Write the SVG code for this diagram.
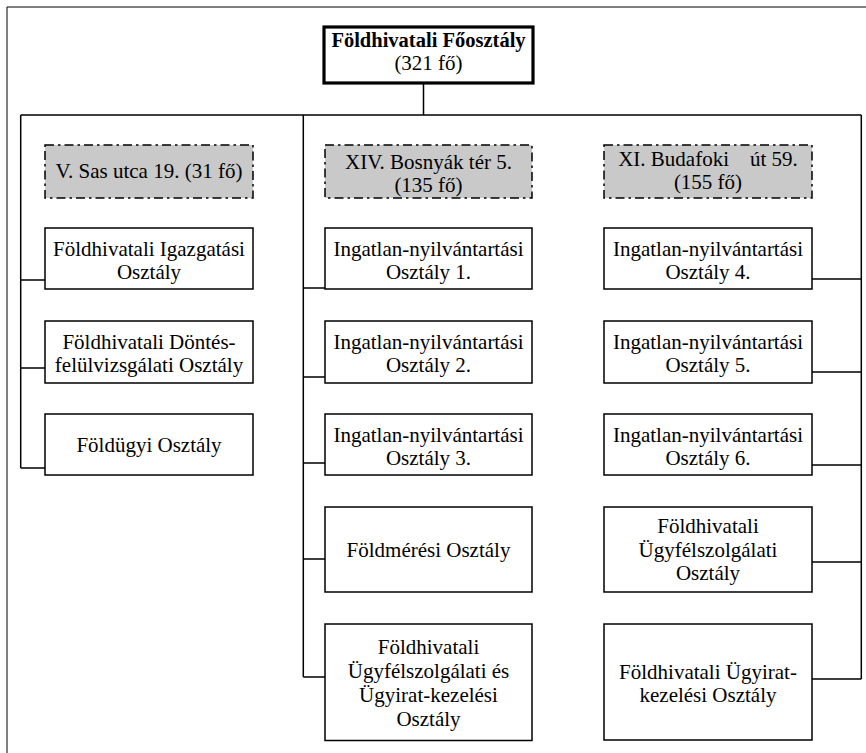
<svg xmlns="http://www.w3.org/2000/svg" width="866" height="753" viewBox="0 0 866 753">
<style>
text{font-family:'Liberation Serif','Times New Roman',serif;font-size:21px;fill:#000;text-anchor:middle}
.b{font-weight:bold;font-size:20.5px}
.box{fill:#fff;stroke:#000;stroke-width:1.5}
.top{fill:#fff;stroke:#000;stroke-width:3.2}
.loc{fill:#c9c9c9;stroke:#000;stroke-width:1.5;stroke-dasharray:9 4 2.5 4}
.ln{fill:none;stroke:#000;stroke-width:1.5}
.frame{fill:none;stroke:#000;stroke-width:1}
</style>
<rect width="866" height="753" fill="#fff"/>
<path class="frame" d="M7,753 V7 H866"/>
<g id="connectors">
<path class="ln" d="M423.5,83 V115 M20.7,115 H861.3"/>
<path class="ln" d="M20.7,115 V468 M20.7,280 H45 M20.7,368 H45 M20.7,468 H45"/>
<path class="ln" d="M303.3,115 V677 M303.3,288 H325 M303.3,377 H325 M303.3,463 H325 M303.3,559 H325 M303.3,677 H325"/>
<path class="ln" d="M861.3,115 V679 M812,279 H861.3 M812,372 H861.3 M812,465 H861.3 M812,562 H861.3 M812,679 H861.3"/>
</g>
<g id="foosztaly">
<rect class="top" x="324" y="27" width="209" height="56"/>
<text class="b" x="428.5" y="47">Földhivatali Főosztály</text>
<text x="428.5" y="70">(321 fő)</text>
</g>
<g id="loc-sas">
<rect class="loc" x="45" y="145" width="208" height="53"/>
<text x="149" y="178">V. Sas utca 19. (31 fő)</text>
</g>
<g id="loc-bosnyak">
<rect class="loc" x="325" y="145" width="207" height="53"/>
<text x="428.5" y="169">XIV. Bosnyák tér 5.</text>
<text x="428.5" y="192">(135 fő)</text>
</g>
<g id="loc-budafoki">
<rect class="loc" x="604" y="145" width="208" height="53"/>
<text x="708" y="166" style="white-space:pre">XI. Budafoki    út 59.</text>
<text x="708" y="189">(155 fő)</text>
</g>
<g id="igazgatasi">
<rect class="box" x="45" y="228" width="208" height="61"/>
<text x="149" y="256">Földhivatali Igazgatási</text>
<text x="149" y="279">Osztály</text>
</g>
<g id="dontes">
<rect class="box" x="45" y="321" width="208" height="62"/>
<text x="149" y="349">Földhivatali Döntés-</text>
<text x="149" y="372">felülvizsgálati Osztály</text>
</g>
<g id="foldugyi">
<rect class="box" x="45" y="414" width="208" height="61"/>
<text x="149" y="452">Földügyi Osztály</text>
</g>
<g id="ingatlan1">
<rect class="box" x="325" y="228" width="207" height="61"/>
<text x="428.5" y="256">Ingatlan-nyilvántartási</text>
<text x="428.5" y="279">Osztály 1.</text>
</g>
<g id="ingatlan2">
<rect class="box" x="325" y="321" width="207" height="62"/>
<text x="428.5" y="349">Ingatlan-nyilvántartási</text>
<text x="428.5" y="372">Osztály 2.</text>
</g>
<g id="ingatlan3">
<rect class="box" x="325" y="414" width="207" height="61"/>
<text x="428.5" y="442">Ingatlan-nyilvántartási</text>
<text x="428.5" y="465">Osztály 3.</text>
</g>
<g id="foldmeresi">
<rect class="box" x="325" y="507" width="207" height="85"/>
<text x="428.5" y="557">Földmérési Osztály</text>
</g>
<g id="ugyfel-ugyirat">
<rect class="box" x="325" y="624" width="207" height="116.5"/>
<text x="428.5" y="653.5">Földhivatali</text>
<text x="428.5" y="677.5">Ügyfélszolgálati és</text>
<text x="428.5" y="701.5">Ügyirat-kezelési</text>
<text x="428.5" y="725.5">Osztály</text>
</g>
<g id="ingatlan4">
<rect class="box" x="604" y="228" width="208" height="61"/>
<text x="708" y="256">Ingatlan-nyilvántartási</text>
<text x="708" y="279">Osztály 4.</text>
</g>
<g id="ingatlan5">
<rect class="box" x="604" y="321" width="208" height="62"/>
<text x="708" y="349">Ingatlan-nyilvántartási</text>
<text x="708" y="372">Osztály 5.</text>
</g>
<g id="ingatlan6">
<rect class="box" x="604" y="414" width="208" height="61"/>
<text x="708" y="442">Ingatlan-nyilvántartási</text>
<text x="708" y="465">Osztály 6.</text>
</g>
<g id="ugyfelszolgalati">
<rect class="box" x="604" y="507" width="208" height="85"/>
<text x="708" y="533">Földhivatali</text>
<text x="708" y="556.5">Ügyfélszolgálati</text>
<text x="708" y="580">Osztály</text>
</g>
<g id="ugyirat">
<rect class="box" x="604" y="624" width="208" height="116"/>
<text x="708" y="679">Földhivatali Ügyirat-</text>
<text x="708" y="702">kezelési Osztály</text>
</g>
</svg>
